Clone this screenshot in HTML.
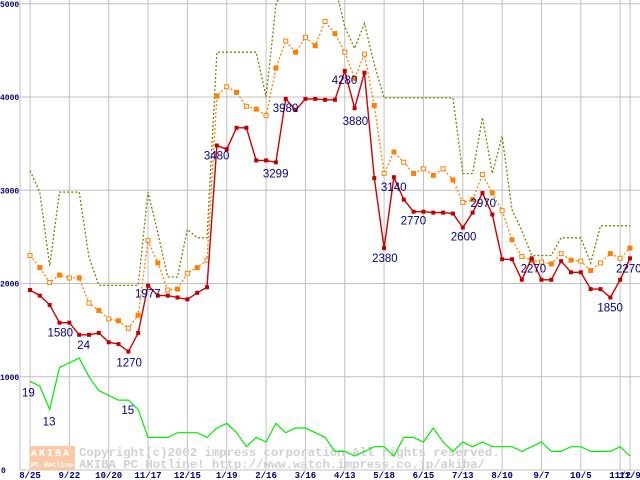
<!DOCTYPE html>
<html><head><meta charset="utf-8"><style>
body{margin:0;background:#fff;width:640px;height:480px;overflow:hidden}
svg{display:block;font-family:"Liberation Mono",monospace}
</style></head><body>
<svg id="chart" width="640" height="480" viewBox="0 0 640 480">
<defs><clipPath id="plotclip"><rect x="20" y="0" width="620" height="471"/></clipPath></defs>
<g id="grid"></g>
<g id="watermark">
<rect x="30" y="446" width="45" height="24" fill="#fbc8a8"/>
<text x="31" y="456" font-size="10" font-weight="bold" fill="#fff" letter-spacing="2">AKIBA</text>
<text x="31" y="467" font-size="7" font-weight="bold" fill="#fff">PC Hotline!</text>
<text x="79" y="456" font-size="12.3" font-weight="bold" fill="#d0d0d0">Copyright(c)2002 impress corporation All rights reserved.</text>
<text x="79" y="468" font-size="12.3" font-weight="bold" fill="#d0d0d0">AKIBA PC Hotline!  http://www.watch.impress.co.jp/akiba/</text>
</g>
<g id="series" clip-path="url(#plotclip)"></g>
<g id="labels"></g>
</svg>
<script>
const xLabels=["8/25","9/22","10/20","11/17","12/15","1/19","2/16","3/16","4/13","5/18","6/15","7/13","8/10","9/7","10/5","11/2","11/9"];
const xLabelIdx=[0,4,8,12,16,20,24,28,32,36,40,44,48,52,56,60,61];
const yTicks=[0,1000,2000,3000,4000,5000];
const minPrice=[1930,1870,1770,1580,1580,1450,1450,1470,1370,1350,1270,1470,1977,1870,1870,1850,1830,1900,1960,3480,3440,3670,3670,3320,3320,3299,3980,3860,3980,3980,3970,3970,4280,3880,4260,3130,2380,3140,2900,2770,2770,2760,2760,2750,2600,2760,2970,2740,2260,2260,2040,2270,2040,2040,2240,2120,2120,1940,1940,1850,2040,2270];
const avgPrice=[2300,2170,2010,2090,2060,2060,1790,1710,1620,1600,1520,1660,2460,2220,1930,1940,2110,2170,2250,4010,4110,4050,3900,3870,3800,4310,4600,4480,4640,4550,4810,4680,4480,4200,4460,3910,3180,3410,3300,3180,3230,3160,3230,3110,2870,2900,3170,2970,2780,2470,2290,2250,2230,2210,2320,2250,2240,2140,2220,2320,2270,2380];
const maxPrice=[3210,2980,2190,2980,2980,2980,2280,1980,1980,1980,1980,1980,2980,2540,2070,2070,2580,2490,2490,4480,4480,4480,4480,4480,4000,4990,5200,5200,5200,5200,5200,5200,4750,4520,4790,4350,3990,3990,3990,3990,3990,3990,3990,3990,3180,3180,3780,3180,3580,2790,2570,2300,2300,2300,2490,2490,2490,2220,2620,2620,2620,2620];
const shopCount=[19,18,13,22,23,24,20,17,16,15,15,13,7,7,7,8,8,8,7,9,10,8,5,7,6,10,8,9,9,8,7,4,4,3,4,5,5,3,7,7,6,9,6,4,6,5,6,5,5,5,4,5,6,4,4,5,5,4,4,4,5,3];
const annotations=[["19",0,"c"],["13",2,"c"],["1580",3,"m"],["24",5,"c"],["1270",10,"m"],["15",10,"c"],["1977",12,"m"],["3480",19,"m"],["3299",25,"m"],["3980",26,"m"],["4280",32,"m"],["3880",33,"m"],["3140",37,"m"],["2380",36,"m"],["2770",39,"m"],["2600",44,"m"],["2970",46,"m"],["2270",51,"m"],["1850",59,"m"],["2270",61,"m"]];
const annOffsets=[[-8,15],[-7,16],[-12,14],[-2,-9],[-12,15],[-7,14],[-13,12],[-13,14],[-13,15],[-13,13],[-13,13],[-12,17],[-13,14],[-12,14],[-13,13],[-12,13],[-12,14],[-11,14],[-13,14],[-14,14]];
const NS="http://www.w3.org/2000/svg";
const X=i=>30+i*(600/61);
const Y=v=>470-v*0.09325;
const grid=document.getElementById('grid'),ser=document.getElementById('series'),lab=document.getElementById('labels');
function mk(tag,attrs,parent){const e=document.createElementNS(NS,tag);for(const k in attrs)e.setAttribute(k,attrs[k]);parent.appendChild(e);return e;}
yTicks.forEach(v=>{
 const l=mk('line',{x1:20,x2:640,y1:Y(v),y2:Y(v),stroke:'#c0c0c0','stroke-width':1},grid);
 
 
 const t=mk('text',{x:v?0:1,y:Y(v)+3,'font-size':8,'font-weight':'bold',fill:'#000080'},lab);
 t.textContent=String(v);
 
 
});
xLabelIdx.forEach((idx,k)=>{
 const l=mk('line',{x1:X(idx),x2:X(idx),y1:0,y2:470,stroke:'#c0c0c0','stroke-width':1},grid);
 
 
 const t=mk('text',{x:X(idx),y:478,'font-size':9,'font-weight':'bold',fill:'#000080','text-anchor':'middle'},lab);
 t.textContent=xLabels[k];
 
 
});
const ax=mk('line',{x1:20,x2:20,y1:0,y2:470,stroke:'#c0c0c0'},grid);


const bx=mk('line',{x1:20,x2:640,y1:470,y2:470,stroke:'#c0c0c0'},grid);


function pts(arr,f){return arr.map((v,i)=>X(i).toFixed(1)+','+f(v).toFixed(1)).join(' ');}
const pMax=mk('polyline',{points:pts(maxPrice,Y),fill:'none',stroke:'#808000','stroke-width':1.3,'stroke-dasharray':'2,2'},ser);


const pAvg=mk('polyline',{points:pts(avgPrice,Y),fill:'none',stroke:'#ff8000','stroke-width':1.3,'stroke-dasharray':'2,2'},ser);


avgPrice.forEach((v,i)=>{
 const r=mk('rect',{x:X(i)-2,y:Y(v)-2,width:4,height:4,fill:i%2?'#ff8000':'#fff',stroke:'#ff8000','stroke-width':1},ser);
 
 
});
const pMin=mk('polyline',{points:pts(minPrice,Y),fill:'none',stroke:'#cc0000','stroke-width':1.4},ser);


minPrice.forEach((v,i)=>{
 const r=mk('rect',{x:X(i)-2,y:Y(v)-2,width:4,height:4,fill:'#c00000'},ser);
 
 
});
const pCnt=mk('polyline',{points:pts(shopCount,c=>Y(c*50)),fill:'none',stroke:'#00ee00','stroke-width':1.2},ser);


annotations.forEach((a,k)=>{
 const [txt,i,kind]=a;
 const y=kind==='c'?Y(shopCount[i]*50):Y(minPrice[i]);
 const t=mk('text',{x:X(i)+annOffsets[k][0],y:y+annOffsets[k][1],'font-size':11.5,fill:'#000080','font-family':'Liberation Sans, sans-serif'},lab);
 t.textContent=txt;
 
 
});
</script>
</body></html>
